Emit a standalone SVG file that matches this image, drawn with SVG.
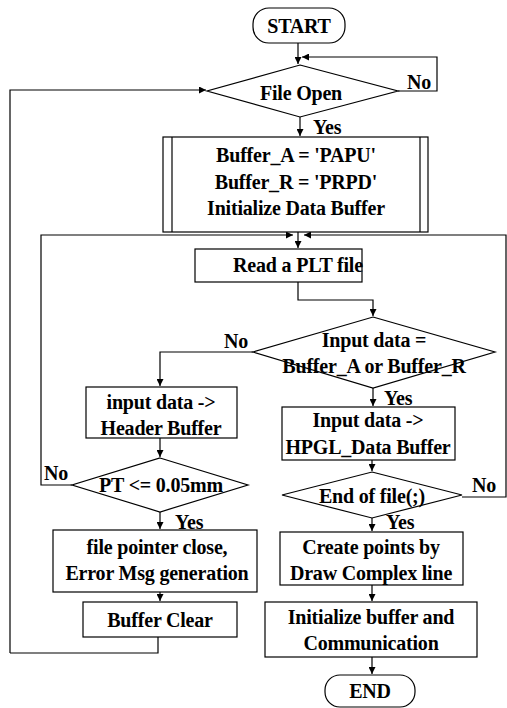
<svg xmlns="http://www.w3.org/2000/svg" width="507" height="708" viewBox="0 0 507 708">
<defs>
<marker id="ah" viewBox="0 0 10 10" refX="10" refY="5" markerWidth="7" markerHeight="7" markerUnits="userSpaceOnUse" orient="auto">
<path d="M0,0 L10,5 L0,10 z" fill="#000"/>
</marker>
</defs>
<style>
.s{fill:#fff;stroke:#000;stroke-width:1.2}
.c{fill:none;stroke:#000;stroke-width:1.2}
.t{font-family:"Liberation Serif","Times New Roman",serif;font-weight:bold;font-size:20px;text-anchor:middle;dominant-baseline:central;letter-spacing:-0.2px}
.l{font-family:"Liberation Serif","Times New Roman",serif;font-weight:bold;font-size:20px;dominant-baseline:central;letter-spacing:-0.2px}
</style>
<rect width="507" height="708" fill="#fff"/>
<g id="connectors">
<path class="c" d="M298,43 V64" marker-end="url(#ah)"/>
<path class="c" d="M398,91 H437 V57 H302" marker-end="url(#ah)"/>
<path class="c" d="M10,653 V90 H206" marker-end="url(#ah)"/>
<path class="c" d="M300,117 V136" marker-end="url(#ah)"/>
<path class="c" d="M298,232 V248" marker-end="url(#ah)"/>
<path class="c" d="M72,485 H41 V235 H293" marker-end="url(#ah)"/>
<path class="c" d="M462,497 H506 V235 H304" marker-end="url(#ah)"/>
<path class="c" d="M298,282 V300 H373 V316" marker-end="url(#ah)"/>
<path class="c" d="M253,352 H160 V386" marker-end="url(#ah)"/>
<path class="c" d="M373,388 V406" marker-end="url(#ah)"/>
<path class="c" d="M160,438 V457" marker-end="url(#ah)"/>
<path class="c" d="M160,512 V529" marker-end="url(#ah)"/>
<path class="c" d="M160,592 V601" marker-end="url(#ah)"/>
<path class="c" d="M158,637 V653 H10"/>
<path class="c" d="M372,460 V471" marker-end="url(#ah)"/>
<path class="c" d="M372,518 V531" marker-end="url(#ah)"/>
<path class="c" d="M372,585 V601" marker-end="url(#ah)"/>
<path class="c" d="M372,657 V674" marker-end="url(#ah)"/>
<text class="l" x="407" y="82">No</text>
<text class="l" x="313" y="127">Yes</text>
<text class="l" x="224" y="341">No</text>
<text class="l" x="384" y="398">Yes</text>
<text class="l" x="44" y="473">No</text>
<text class="l" x="175" y="522">Yes</text>
<text class="l" x="472" y="485">No</text>
<text class="l" x="386" y="522">Yes</text>
</g>
<g id="start">
<rect class="s" x="253" y="8" width="92" height="35" rx="16"/>
<text class="t" x="299" y="26">START</text>
</g>
<g id="file-open">
<polygon class="s" points="300,65 398,91 300,117 207,91"/>
<text class="t" x="301" y="93">File Open</text>
</g>
<g id="init-buffers">
<rect class="s" x="163" y="137" width="265" height="95"/>
<line class="c" x1="172" y1="137" x2="172" y2="232"/>
<line class="c" x1="420" y1="137" x2="420" y2="232"/>
<text class="t" x="296" y="155">Buffer_A = 'PAPU'</text>
<text class="t" x="296" y="182">Buffer_R = 'PRPD'</text>
<text class="t" x="296" y="208">Initialize Data Buffer</text>
</g>
<g id="read-plt">
<rect class="s" x="195" y="249" width="167" height="33"/>
<text class="t" x="298" y="265">Read a PLT file</text>
</g>
<g id="input-check">
<polygon class="s" points="373,317 495,352 373,388 253,352"/>
<text class="t" x="374" y="340">Input data =</text>
<text class="t" x="374" y="366">Buffer_A or Buffer_R</text>
</g>
<g id="header-buffer">
<rect class="s" x="86" y="387" width="151" height="51"/>
<text class="t" x="161" y="402">input data -&gt;</text>
<text class="t" x="161" y="428">Header Buffer</text>
</g>
<g id="pt-check">
<polygon class="s" points="160,458 248,485 160,512 72,485"/>
<text class="t" x="161" y="485">PT &lt;= 0.05mm</text>
</g>
<g id="file-close">
<rect class="s" x="53" y="530" width="204" height="62"/>
<text class="t" x="157" y="547">file pointer close,</text>
<text class="t" x="157" y="573">Error Msg generation</text>
</g>
<g id="buffer-clear">
<rect class="s" x="83" y="602" width="154" height="35"/>
<text class="t" x="160" y="620">Buffer Clear</text>
</g>
<g id="hpgl">
<rect class="s" x="282" y="407" width="173" height="53"/>
<text class="t" x="368" y="420">Input data -&gt;</text>
<text class="t" x="368" y="447">HPGL_Data Buffer</text>
</g>
<g id="eof">
<polygon class="s" points="372,472 462,495 372,518 282,495"/>
<text class="t" x="372" y="496">End of file(;)</text>
</g>
<g id="create-points">
<rect class="s" x="280" y="532" width="183" height="53"/>
<text class="t" x="371" y="547">Create points by</text>
<text class="t" x="371" y="573">Draw Complex line</text>
</g>
<g id="init-comm">
<rect class="s" x="265" y="602" width="212" height="55"/>
<text class="t" x="371" y="617">Initialize buffer and</text>
<text class="t" x="371" y="643">Communication</text>
</g>
<g id="end">
<rect class="s" x="325" y="675" width="90" height="32" rx="15"/>
<text class="t" x="370" y="691">END</text>
</g>
</svg>
